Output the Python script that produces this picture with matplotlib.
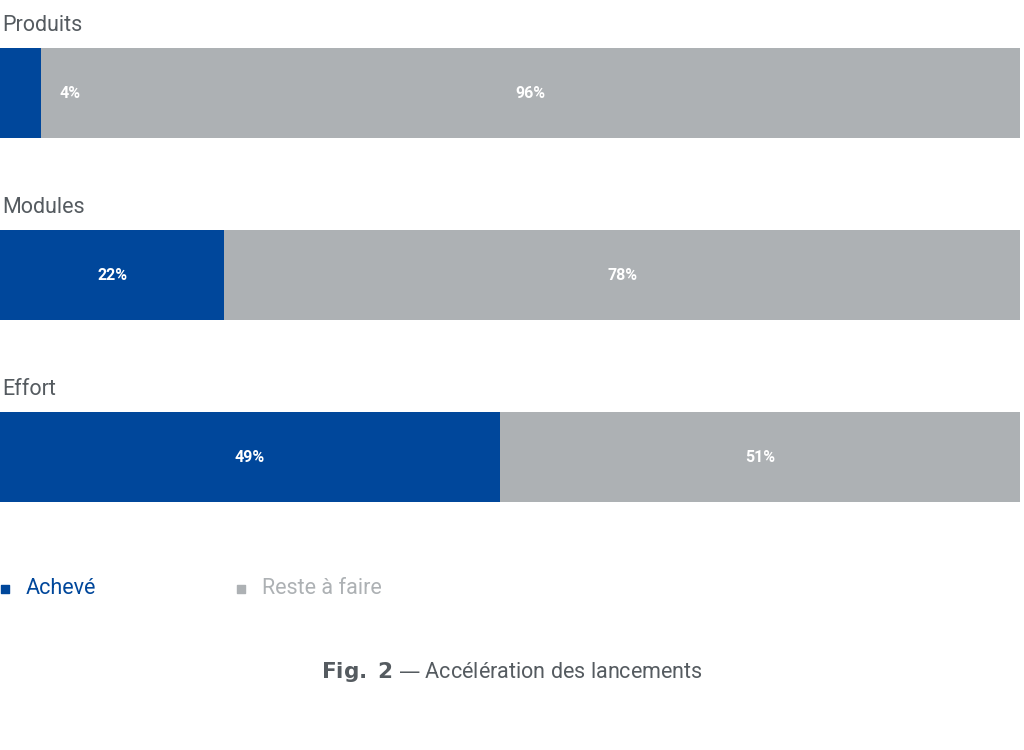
import matplotlib.pyplot as plt

plt.rcParams["font.family"] = "Roboto"

categories = ["Produits", "Modules", "Effort"]
done = [4, 22, 49]
remaining = [96, 78, 51]

BLUE = "#00479b"
GREY = "#adb1b4"

fig = plt.figure(figsize=(10.24, 7.5), dpi=100)
ax = fig.add_axes([0, 0, 1, 1])
ax.set_xlim(0, 100 * 1024 / 1020)
ax.set_ylim(750, 0)
ax.axis("off")

bar_tops = [48, 230, 412]
bar_h = 90
px = 100 / 1020  # data units per pixel in x

for name, d, r, top in zip(categories, done, remaining, bar_tops):
    yc = top + bar_h / 2
    ax.barh(yc, d, height=bar_h, color=BLUE, left=0)
    ax.barh(yc, r, height=bar_h, color=GREY, left=d)
    ax.text(0.2, top - 12, name, fontsize=15.5, color="#555b60", va="bottom", ha="left")
    # small segments get their label pushed just to the right
    dx = d / 2 if d > 8 else d + 29 * px
    ax.text(dx, yc, f"{d}%", color="white", fontsize=11.5, fontweight="bold",
            ha="center", va="center")
    ax.text(d + r / 2, yc, f"{r}%", color="white", fontsize=11.5, fontweight="bold",
            ha="center", va="center")

# legend
ax.scatter([5 * px], [589], marker="s", s=40, color=BLUE)
ax.text(26 * px, 588, "Achevé", color=BLUE, fontsize=15.5, va="center")
ax.scatter([241 * px], [589], marker="s", s=40, color=GREY)
ax.text(262 * px, 588, "Reste à faire", color=GREY, fontsize=15.5, va="center")

# caption
fig.text(0.5, 1 - 672 / 750, r"$\bf{Fig.\ 2}$ — Accélération des lancements",
         ha="center", va="center", fontsize=15.5, color="#555b60")

fig.savefig("out.png", dpi=100)
